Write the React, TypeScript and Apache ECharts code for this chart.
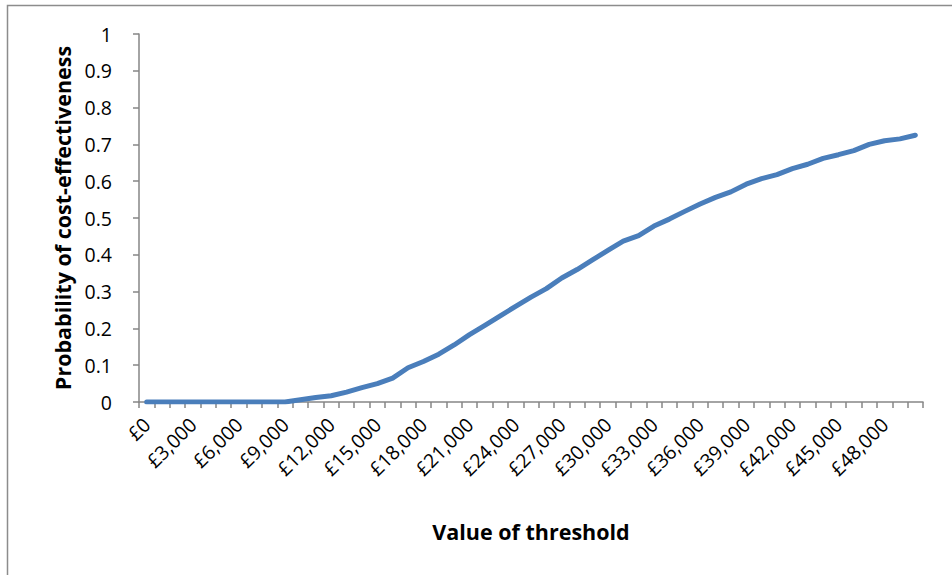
import React, { useEffect, useRef } from "react";
import * as echarts from "echarts";

const thresholds: number[] = [
  0, 1000, 2000, 3000, 4000, 5000, 6000, 7000, 8000, 9000,
  10000, 11000, 12000, 13000, 14000, 15000, 16000, 17000, 18000, 19000,
  20000, 21000, 22000, 23000, 24000, 25000, 26000, 27000, 28000, 29000,
  30000, 31000, 32000, 33000, 34000, 35000, 36000, 37000, 38000, 39000,
  40000, 41000, 42000, 43000, 44000, 45000, 46000, 47000, 48000, 49000, 50000,
];

const probability: number[] = [
  0, 0, 0, 0, 0, 0, 0, 0, 0, 0,
  0.006, 0.012, 0.017, 0.027, 0.039, 0.05, 0.065, 0.093, 0.11, 0.13,
  0.155, 0.183, 0.208, 0.234, 0.26, 0.285, 0.308, 0.337, 0.36, 0.386,
  0.412, 0.437, 0.452, 0.478, 0.497, 0.518, 0.538, 0.556, 0.571, 0.592,
  0.607, 0.618, 0.634, 0.646, 0.662, 0.672, 0.683, 0.7, 0.71, 0.715, 0.725,
];

const xTitle = "Value of threshold";
const yTitle = "Probability of cost-effectiveness";

const fmt = (v: number) => "£" + v.toLocaleString("en-GB");

const FONT = "'Open Sans', 'Liberation Sans', sans-serif";

export default function App() {
  const ref = useRef<HTMLDivElement>(null);
  useEffect(() => {
    if (!ref.current) return;
    const chart = echarts.init(ref.current, null, { renderer: "svg" });
    chart.setOption({
      animation: false,
      backgroundColor: "#ffffff",
      graphic: [
        {
          type: "rect",
          shape: { x: 7.5, y: 5.5, width: 1200, height: 1200 },
          style: { fill: "none", stroke: "#8c8c8c", lineWidth: 1.5 },
          silent: true,
        },
      ],
      grid: { left: 139, right: 29, top: 34, bottom: 173 },
      xAxis: {
        type: "category",
        data: thresholds.map(fmt),
        boundaryGap: true,
        name: xTitle,
        nameLocation: "middle",
        nameGap: 118,
        nameTextStyle: { fontFamily: FONT, fontWeight: "bold", fontSize: 21.5, color: "#000" },
        axisLine: { lineStyle: { color: "#868686", width: 1.5 } },
        axisTick: { show: true, interval: 0, length: 6, lineStyle: { color: "#868686", width: 1.5 } },
        axisLabel: {
          interval: 2,
          rotate: 45,
          margin: 19,
          fontFamily: FONT,
          fontSize: 19.5,
          color: "#000",
        },
        splitLine: { show: false },
      },
      yAxis: {
        type: "value",
        min: 0,
        max: 1,
        interval: 0.1,
        name: yTitle,
        nameLocation: "middle",
        nameGap: 66,
        nameTextStyle: { fontFamily: FONT, fontWeight: "bold", fontSize: 21.5, color: "#000" },
        axisLine: { show: true, lineStyle: { color: "#868686", width: 1.5 } },
        axisTick: { show: true, length: 6, lineStyle: { color: "#868686", width: 1.5 } },
        axisLabel: {
          margin: 27,
          fontFamily: FONT,
          fontSize: 19.5,
          color: "#000",
          formatter: (v: number) => String(Math.round(v * 10) / 10),
        },
        splitLine: { show: false },
      },
      series: [
        {
          type: "line",
          data: probability,
          showSymbol: false,
          symbol: "none",
          lineStyle: { color: "#4a7ebb", width: 5, cap: "round", join: "round" },
          smooth: false,
        },
      ],
    });
    return () => chart.dispose();
  }, []);
  return (
    <div
      ref={ref}
      style={{ position: "absolute", left: 0, top: 0, width: 952, height: 575 }}
    />
  );
}
